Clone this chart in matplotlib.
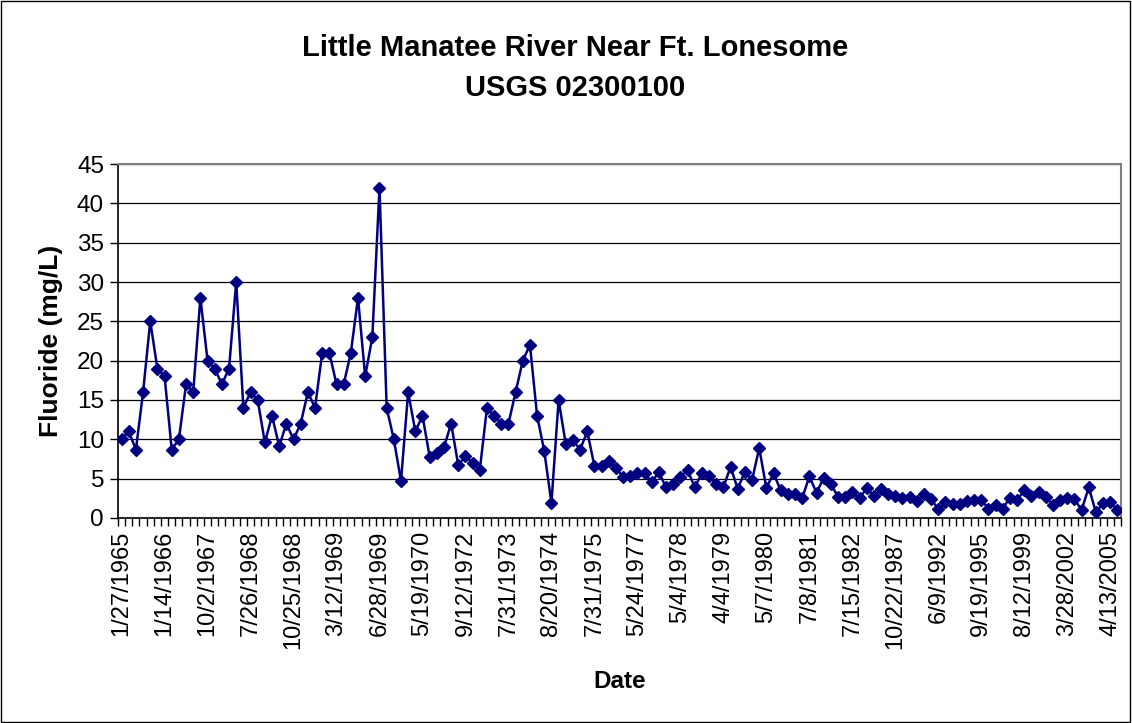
import matplotlib.pyplot as plt
from matplotlib.patches import Rectangle

plt.rcParams['font.family'] = ['Liberation Sans', 'DejaVu Sans']

# fluoride samples (mg/L), in sample order
fluoride = [10, 11, 8.7, 16, 25, 19, 18, 8.7, 10, 17,
            16, 28, 20, 19, 17, 19, 30, 14, 16, 15,
            9.6, 13, 9.1, 12, 10, 12, 16, 14, 21, 21,
            17, 17, 21, 28, 18, 23, 42, 14, 10, 4.7,
            16, 11, 13, 7.8, 8.3, 9, 12, 6.7, 7.9, 7.0,
            6.1, 14, 13, 12, 12, 16, 20, 22, 13, 8.5,
            1.9, 15, 9.4, 9.9, 8.7, 11, 6.6, 6.6, 7.2, 6.4,
            5.2, 5.4, 5.7, 5.7, 4.6, 5.8, 3.9, 4.3, 5.2, 6.1,
            3.9, 5.7, 5.3, 4.3, 3.9, 6.5, 3.7, 5.9, 4.8, 8.9,
            3.8, 5.7, 3.5, 3.0, 3.0, 2.5, 5.3, 3.2, 5.1, 4.3,
            2.7, 2.7, 3.3, 2.5, 3.8, 2.8, 3.7, 3.1, 2.8, 2.5,
            2.7, 2.1, 3.0, 2.4, 1.1, 2.0, 1.8, 1.8, 2.1, 2.3,
            2.3, 1.2, 1.7, 1.2, 2.6, 2.3, 3.5, 2.8, 3.3, 2.7,
            1.7, 2.3, 2.5, 2.4, 1.0, 3.9, 0.7, 1.9, 2.0, 1.0]

# every sixth sample date is labelled
date_labels = ['1/27/1965', '1/14/1966', '10/2/1967', '7/26/1968', '10/25/1968',
               '3/12/1969', '6/28/1969', '5/19/1970', '9/12/1972', '7/31/1973',
               '8/20/1974', '7/31/1975', '5/24/1977', '5/4/1978', '4/4/1979',
               '5/7/1980', '7/8/1981', '7/15/1982', '10/22/1987', '6/9/1992',
               '9/19/1995', '8/12/1999', '3/28/2002', '4/13/2005']
label_step = 6

n = len(fluoride)
x = list(range(n))

fig = plt.figure(figsize=(11.32, 7.23), dpi=100)
ax = fig.add_axes([118 / 1132, 1 - 518 / 723, (1121 - 118) / 1132, (518 - 164) / 723])

ax.plot(x, fluoride, color='#000080', lw=1.8, marker='D', markersize=6.3,
        markerfacecolor='#000080', markeredgecolor='#000080', zorder=3)

ax.set_xlim(-0.5, n - 0.5)
ax.set_ylim(0, 45)
ax.set_yticks(range(0, 46, 5))
ax.yaxis.grid(True, color='black', lw=0.9)
ax.set_axisbelow(True)

# tick marks between categories, labels on every sixth category
ax.set_xticks([i - 0.5 for i in range(n + 1)])
ax.set_xticklabels([])
ax.set_xticks(list(range(0, n, label_step))[:len(date_labels)], date_labels, minor=True)
ax.tick_params(axis='x', which='major', direction='out', length=6, width=1)
ax.tick_params(axis='x', which='minor', length=0, pad=9, labelsize=17, labelrotation=90)
ax.tick_params(axis='y', direction='out', length=6, width=1, labelsize=17.5, pad=4)
for lab in ax.get_xticklabels(minor=True):
    lab.set_va('top')
    lab.set_ha('center')

for side in ['top', 'right']:
    ax.spines[side].set_color('#808080')
    ax.spines[side].set_linewidth(1.5)
ax.spines['left'].set_linewidth(1.2)
ax.spines['bottom'].set_linewidth(1.2)

ax.set_ylabel('Fluoride (mg/L)', fontsize=19, fontweight='bold', labelpad=10)
ax.set_xlabel('Date', fontsize=17.5, fontweight='bold')
ax.xaxis.set_label_coords(0.5, -(670 - 518) / (518 - 164))

fig.text(0.508, 1 - 68 / 723, 'Little Manatee River Near Ft. Lonesome\nUSGS 02300100',
         ha='center', va='center', fontsize=21, fontweight='bold', linespacing=1.5)

fig.patches.append(Rectangle((0.001, 0.002), 0.997, 0.996, transform=fig.transFigure,
                             fill=False, edgecolor='black', lw=1))

fig.savefig('out.png', dpi=100)
